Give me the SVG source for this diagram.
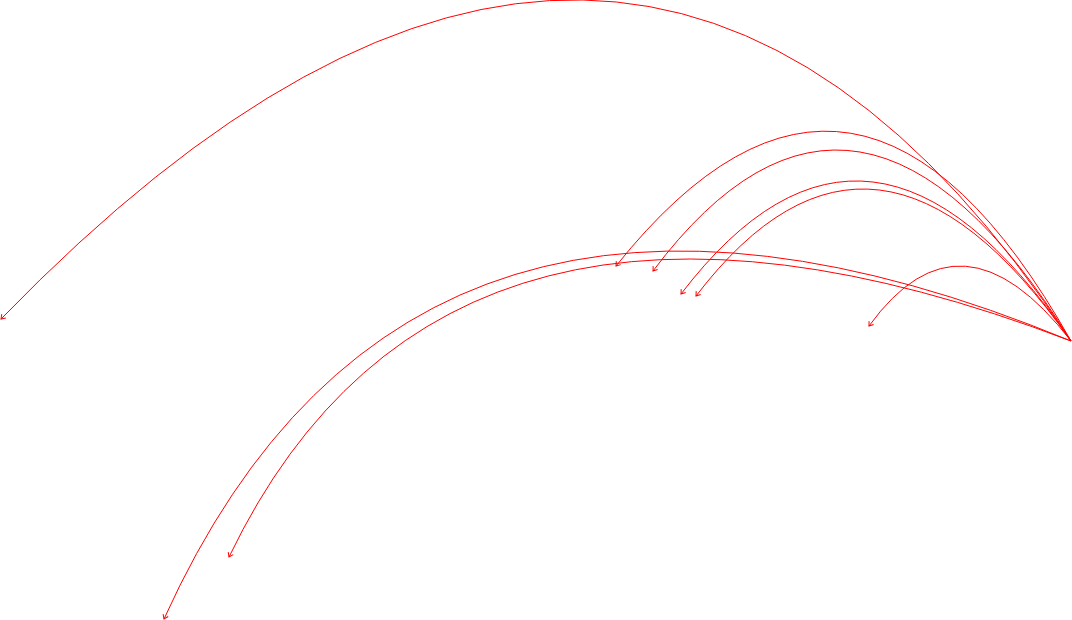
<svg xmlns="http://www.w3.org/2000/svg" width="1072" height="620" viewBox="0 0 1072 620">
  <style>
    .link { fill: none; stroke: #ff0000; stroke-width: 1; marker-end: url(#arrow); }
  </style>
  <defs>
    <marker id="arrow" markerUnits="userSpaceOnUse" markerWidth="10" markerHeight="10" refX="0" refY="0" viewBox="-6 -5 8 10" orient="auto">
      <path d="M-4,-2.8 L0,0 L-4,2.8" fill="none" stroke="#ff0000" stroke-width="1"/>
    </marker>
  </defs>
  <rect width="1072" height="620" fill="#ffffff"/>
  <g id="connectors">
    <path class="link" d="M1071,341 Q630,-330 1,319"/>
    <path class="link" d="M1071,341 Q858,-37 616,266"/>
    <path class="link" d="M1071,341 Q858,-2 653,271"/>
    <path class="link" d="M1071,341 Q870,46.5 681,294"/>
    <path class="link" d="M1071,341 Q875,61.5 696,296"/>
    <path class="link" d="M1071,341 Q961,199 869,326"/>
    <path class="link" d="M1071,341 Q412.5,69 164,619"/>
    <path class="link" d="M1071,341 Q447.6,102.7 229,557"/>
  </g>
</svg>
